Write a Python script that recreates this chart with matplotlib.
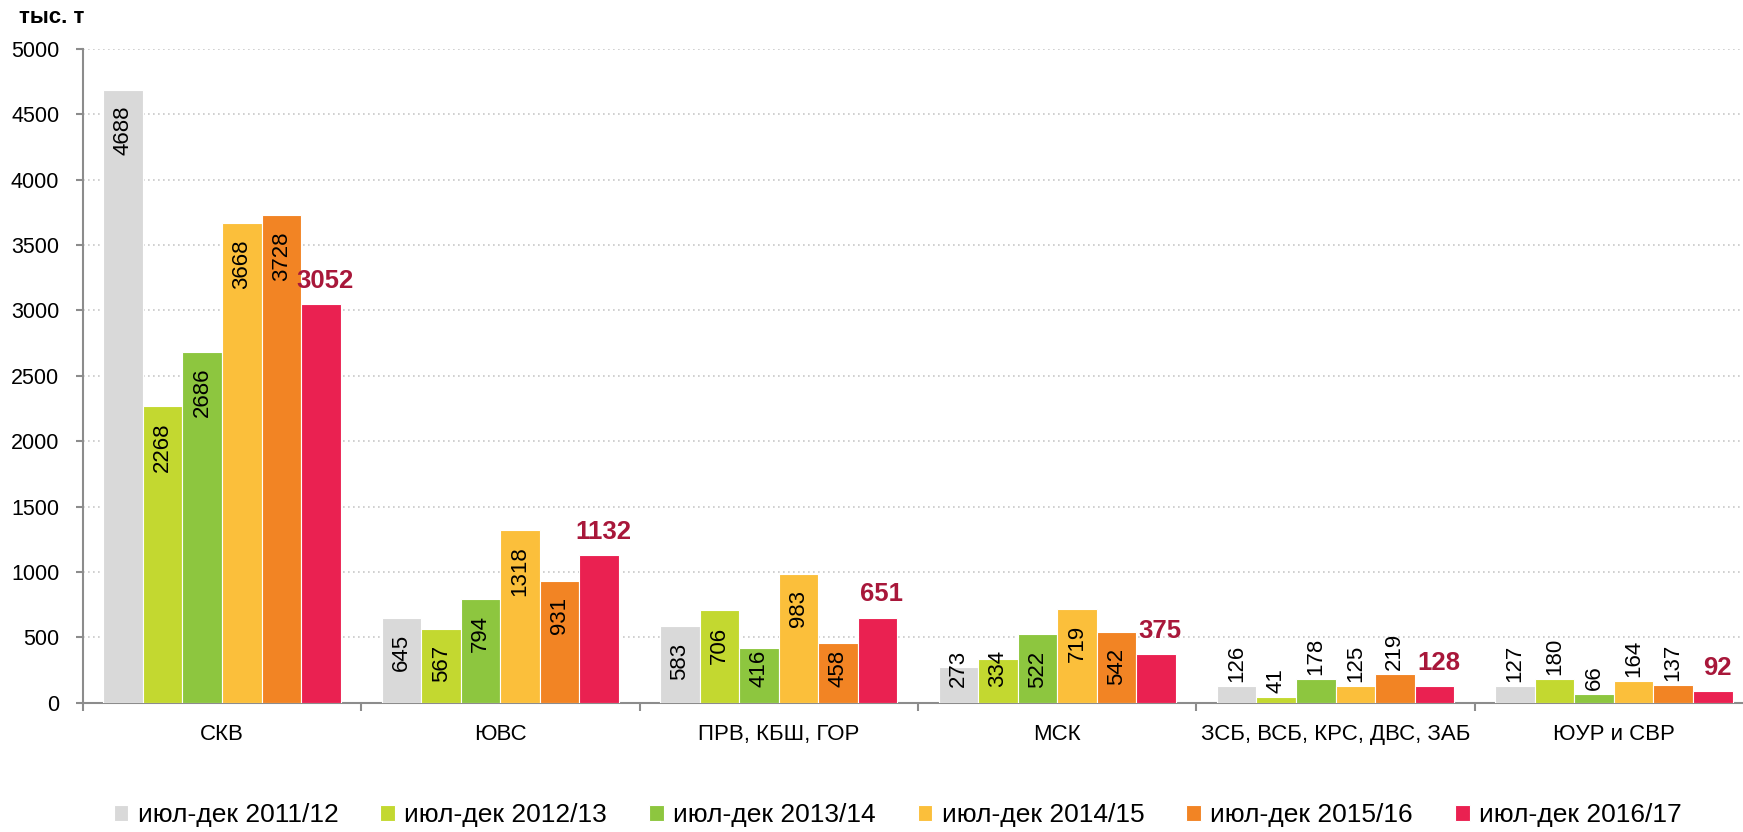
import matplotlib
matplotlib.use("Agg")
import matplotlib.pyplot as plt
import numpy as np

plt.rcParams['font.family'] = ['Liberation Sans', 'DejaVu Sans']

# ---------DATA---------
categories = ['СКВ', 'ЮВС', 'ПРВ, КБШ, ГОР', 'МСК', 'ЗСБ, ВСБ, КРС, ДВС, ЗАБ', 'ЮУР и СВР']
season_labels = ['июл-дек 2011/12', 'июл-дек 2012/13', 'июл-дек 2013/14',
                 'июл-дек 2014/15', 'июл-дек 2015/16', 'июл-дек 2016/17']
v_2011 = [4688, 645, 583, 273, 126, 127]
v_2012 = [2268, 567, 706, 334, 41, 180]
v_2013 = [2686, 794, 416, 522, 178, 66]
v_2014 = [3668, 1318, 983, 719, 125, 164]
v_2015 = [3728, 931, 458, 542, 219, 137]
v_2016 = [3052, 1132, 651, 375, 128, 92]
series = [v_2011, v_2012, v_2013, v_2014, v_2015, v_2016]

colors = ['#D9D9D9', '#C3D830', '#8DC63F', '#FBBF3B', '#F28424', '#EA2151']
last_label_color = '#A8173A'

# ---------PLOT---------
fig = plt.figure(figsize=(17.43, 8.32), dpi=100)
ax = fig.add_axes([0.0475, 0.1554, 0.9583, 0.7857])

x = np.arange(len(categories))
width = 0.142
px = 5000 / 653.7  # data units per pixel on y

for i, vals in enumerate(series):
    pos = x + (i - 2.5) * width
    ax.bar(pos, vals, width, color=colors[i], edgecolor='white', linewidth=0.8,
           label=season_labels[i], zorder=3)
    for xp, v in zip(pos, vals):
        if i == len(series) - 1:
            # last season: bold red label above the bar
            ax.annotate(str(v), (xp, v), xytext=(3, 8), textcoords='offset points',
                        ha='center', va='bottom', fontsize=18.5, fontweight='bold',
                        color=last_label_color, zorder=5)
            continue
        h = v / px
        L = len(str(v)) * 12
        if h >= L + 32:
            ax.annotate(str(v), (xp, v), xytext=(0, -11.5), textcoords='offset points',
                        ha='center', va='top', rotation=90, fontsize=16, zorder=5)
        elif h >= 30:
            ax.annotate(str(v), (xp, 0), xytext=(0, 11.5), textcoords='offset points',
                        ha='center', va='bottom', rotation=90, fontsize=16, zorder=5)
        else:
            ax.annotate(str(v), (xp, v), xytext=(0, 3), textcoords='offset points',
                        ha='center', va='bottom', rotation=90, fontsize=16, zorder=5)

ax.set_xlim(-0.5, len(categories) - 0.5)
ax.set_ylim(0, 5000)
ax.set_yticks(np.arange(0, 5001, 500))
ax.yaxis.grid(True, linestyle=(0, (1, 2)), color='#C8C8C8', linewidth=1.2, zorder=0)

ax.set_xticks(x)
ax.set_xticklabels(categories, fontsize=16)
ax.set_xticks(np.arange(-0.5, len(categories), 1), minor=True)
ax.tick_params(axis='x', which='major', length=0, pad=15)
ax.tick_params(axis='x', which='minor', length=6, width=1.5, color='#8C8C8C', direction='out')
ax.tick_params(axis='y', length=5, width=1.5, color='#8C8C8C', pad=12, labelsize=15.5)

for s in ['top', 'right']:
    ax.spines[s].set_visible(False)
for s in ['left', 'bottom']:
    ax.spines[s].set_color('#8C8C8C')
    ax.spines[s].set_linewidth(1.5)

fig.text(0.011, 0.992, 'тыс. т', fontsize=16, fontweight='bold', ha='left', va='top')

fig.legend(loc='center', bbox_to_anchor=(0.515, 0.02), ncol=6, frameon=False,
           fontsize=19, handlelength=0.55, handleheight=0.55, handletextpad=0.35,
           columnspacing=1.6, borderaxespad=0)

fig.savefig('out.png', dpi=100)
